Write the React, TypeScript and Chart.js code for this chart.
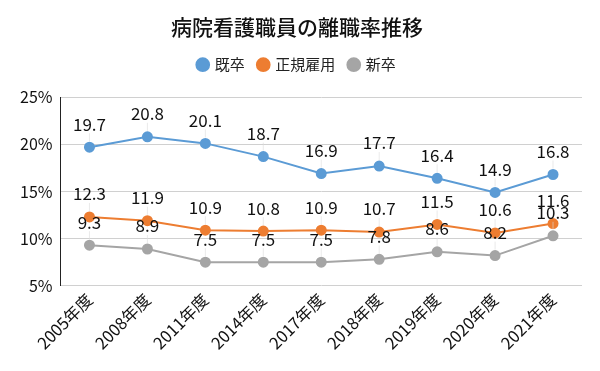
import React, { useEffect, useRef } from "react";
import { Chart, registerables } from "chart.js";

Chart.register(...registerables);

const categories = ["2005年度", "2008年度", "2011年度", "2014年度", "2017年度", "2018年度", "2019年度", "2020年度", "2021年度"];
const kisotsu = [19.7, 20.8, 20.1, 18.7, 16.9, 17.7, 16.4, 14.9, 16.8];
const seiki = [12.3, 11.9, 10.9, 10.8, 10.9, 10.7, 11.5, 10.6, 11.6];
const shinsotsu = [9.3, 8.9, 7.5, 7.5, 7.5, 7.8, 8.6, 8.2, 10.3];
const yTicks = [5, 10, 15, 20, 25];

const FONT = "'Noto Sans CJK JP', 'Noto Sans', sans-serif";

const labelPlugin = {
  id: "valueLabels",
  afterDatasetsDraw(chart: any) {
    const ctx = chart.ctx;
    ctx.save();
    chart.data.datasets.forEach((ds: any, i: number) => {
      const meta = chart.getDatasetMeta(i);
      meta.data.forEach((pt: any, j: number) => {
        const v = ds.data[j];
        const x = pt.x;
        const y = pt.y;
        ctx.strokeStyle = "rgba(220,220,220,0.6)";
        ctx.lineWidth = 1;
        ctx.beginPath();
        ctx.moveTo(x, y - 6);
        ctx.lineTo(x, y - 14);
        ctx.stroke();
        ctx.fillStyle = "#111";
        ctx.font = `17px ${FONT}`;
        ctx.textAlign = "center";
        ctx.textBaseline = "middle";
        ctx.fillText(v.toFixed(1), x, y - 23);
      });
    });
    ctx.restore();
  },
};

const legendGap = {
  id: "legendGap",
  beforeInit(chart: any) {
    const lg = chart.legend;
    if (!lg) return;
    const orig = lg.fit;
    lg.fit = function () {
      orig.call(lg);
      lg.height += 15;
    };
  },
};

export default function App() {
  const ref = useRef<HTMLCanvasElement | null>(null);
  useEffect(() => {
    document.body.style.margin = "0";
    const chart = new Chart(ref.current as HTMLCanvasElement, {
      type: "line",
      data: {
        labels: categories,
        datasets: [
          { label: "既卒", data: kisotsu, borderColor: "#5B9BD5", backgroundColor: "#5B9BD5", pointBackgroundColor: "#5B9BD5", pointBorderColor: "#5B9BD5", borderWidth: 2, pointRadius: 4.5 },
          { label: "正規雇用", data: seiki, borderColor: "#ED7D31", backgroundColor: "#ED7D31", pointBackgroundColor: "#ED7D31", pointBorderColor: "#ED7D31", borderWidth: 2, pointRadius: 4.5 },
          { label: "新卒", data: shinsotsu, borderColor: "#A5A5A5", backgroundColor: "#A5A5A5", pointBackgroundColor: "#A5A5A5", pointBorderColor: "#A5A5A5", borderWidth: 2, pointRadius: 4.5 },
        ],
      },
      options: {
        animation: false,
        responsive: false,
        layout: { padding: { left: 12, right: 18, top: 8, bottom: 14 } },
        plugins: {
          title: {
            display: true,
            text: "病院看護職員の離職率推移",
            color: "#111",
            font: { family: FONT, size: 21, weight: 500 },
            padding: { top: 6, bottom: 4 },
          },
          legend: {
            display: true,
            labels: {
              usePointStyle: true,
              pointStyle: "circle",
              boxWidth: 9,
              boxHeight: 9,
              color: "#222",
              font: { family: FONT, size: 15 },
              padding: 14,
            },
          },
          tooltip: { enabled: false },
        },
        scales: {
          x: {
            offset: true,
            grid: { display: false, drawTicks: false },
            border: { display: false },
            ticks: {
              color: "#111",
              font: { family: FONT, size: 16.5 },
              maxRotation: 45,
              minRotation: 45,
              padding: 4,
            },
          },
          y: {
            min: 5,
            max: 25,
            afterBuildTicks: (axis: any) => {
              axis.ticks = yTicks.map((v) => ({ value: v }));
            },
            grid: { color: "#d0d0d0", drawTicks: false, lineWidth: 1 },
            border: { display: true, color: "#222", width: 1 },
            ticks: {
              color: "#111",
              font: { family: FONT, size: 16 },
              padding: 8,
              callback: (v: any) => `${v}%`,
            },
          },
        },
      },
      plugins: [labelPlugin, legendGap],
    } as any);
    return () => chart.destroy();
  }, []);
  return <canvas ref={ref} width={600} height={371} style={{ display: "block" }} />;
}
